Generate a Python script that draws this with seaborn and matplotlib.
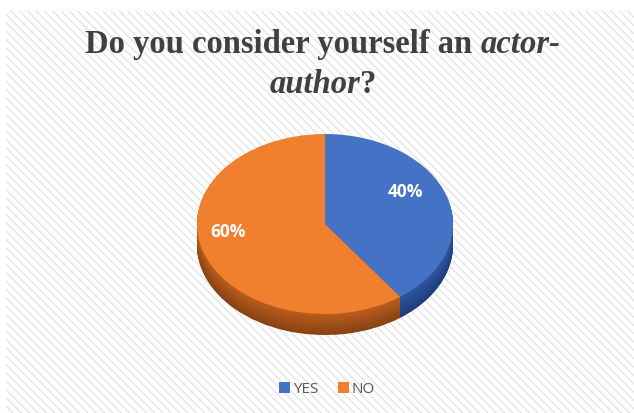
"""
3D-style pie chart: Do you consider yourself an actor-author?
"""
import matplotlib
matplotlib.use('Agg')
import matplotlib.pyplot as plt
import seaborn as sns
import numpy as np
from matplotlib.patches import Rectangle
from matplotlib.colors import to_rgb

categories = ['YES', 'NO']
shares = [40, 60]
top_colors = ['#4472C4', '#F07F2E']
side_colors_top = ['#2D55A0', '#B85C1C']
side_colors_bottom = ['#1F3C7A', '#874313']
title_parts_line1 = [('Do you consider yourself an', 'normal'), ('actor-', 'italic')]
title_parts_line2 = [('author', 'italic'), ('?', 'normal')]

sns.set_theme(style='white')
plt.rcParams['hatch.linewidth'] = 0.9
plt.rcParams['hatch.color'] = '#e2e2e2'

W, H = 634, 413
fig = plt.figure(figsize=(W / 100, H / 100), dpi=100)
fig.patch.set_facecolor('white')

# hatched chart background
bg = Rectangle((6 / W, 0), 1 - 6 / W, 1 - 11 / H, transform=fig.transFigure,
               facecolor='white', edgecolor='#e2e2e2', hatch='\\\\\\\\', linewidth=0, zorder=-5)
fig.patches.append(bg)

ax = fig.add_axes([0, 0, 1, 1])
ax.set_zorder(2)
ax.set_facecolor('none')
ax.axis('off')

# pie geometry in pixels
cx, cy, rx, ry, depth = 325, 224, 128, 90, 21

# side wall: stack of darker pies shifted downward (darker towards the bottom)
n_layers = 40
for k, off in enumerate(np.linspace(depth / ry, 0.01, n_layers)):
    f = k / (n_layers - 1)
    cols = [tuple((1 - f) * np.array(to_rgb(b)) + f * np.array(to_rgb(t)))
            for b, t in zip(side_colors_bottom, side_colors_top)]
    ax.pie(shares, colors=cols, startangle=90, counterclock=False,
           center=(0, -off), radius=1, wedgeprops={'linewidth': 0})

wedges, _, autotexts = ax.pie(shares, colors=top_colors, startangle=90, counterclock=False,
                               autopct='%1.0f%%', pctdistance=0.73, radius=1,
                               wedgeprops={'linewidth': 0},
                               textprops={'color': 'white', 'fontsize': 12.5,
                                          'fontweight': 'bold', 'family': 'Open Sans'})
# labels sit a bit up and left of the flat-pie position (3D projection in the original)
for t in autotexts:
    x, y = t.get_position()
    t.set_position((x - 8 / rx, y + 12 / ry))

ax.set_aspect('auto')
ax.set_xlim(-cx / rx, (W - cx) / rx)
ax.set_ylim(-(H - cy) / ry, cy / ry)
ax.axis('off')

# title with mixed italic
renderer = fig.canvas.get_renderer()
title_kw = dict(family='Liberation Serif', fontweight='bold', fontsize=23.5, color='#404040')


def text_width(s, style):
    t = fig.text(0, 0, s, fontstyle=style, **title_kw)
    w = t.get_window_extent(renderer).width
    t.remove()
    return w


space_w = text_width('a a', 'normal') - text_width('aa', 'normal')


def draw_line(parts, baseline_px, center_px):
    widths = [text_width(s, st) for s, st in parts]
    gaps = [space_w if parts[i + 1][0] != '?' else 0 for i in range(len(parts) - 1)]
    x = center_px - (sum(widths) + sum(gaps)) / 2
    for i, ((s, st), w) in enumerate(zip(parts, widths)):
        fig.text(x / W, 1 - baseline_px / H, s, fontstyle=st, va='baseline', **title_kw)
        x += w + (gaps[i] if i < len(gaps) else 0)


draw_line(title_parts_line1, 53, 323)
draw_line(title_parts_line2, 93, 323)

fig.legend(wedges, categories, loc='lower center', bbox_to_anchor=(327 / W, 0.006), ncol=2,
           frameon=False, handlelength=0.7, handleheight=0.7, handletextpad=0.2,
           columnspacing=1.3, prop={'family': 'Open Sans', 'size': 11},
           labelcolor='#595959')

fig.savefig('out.png', dpi=100)
